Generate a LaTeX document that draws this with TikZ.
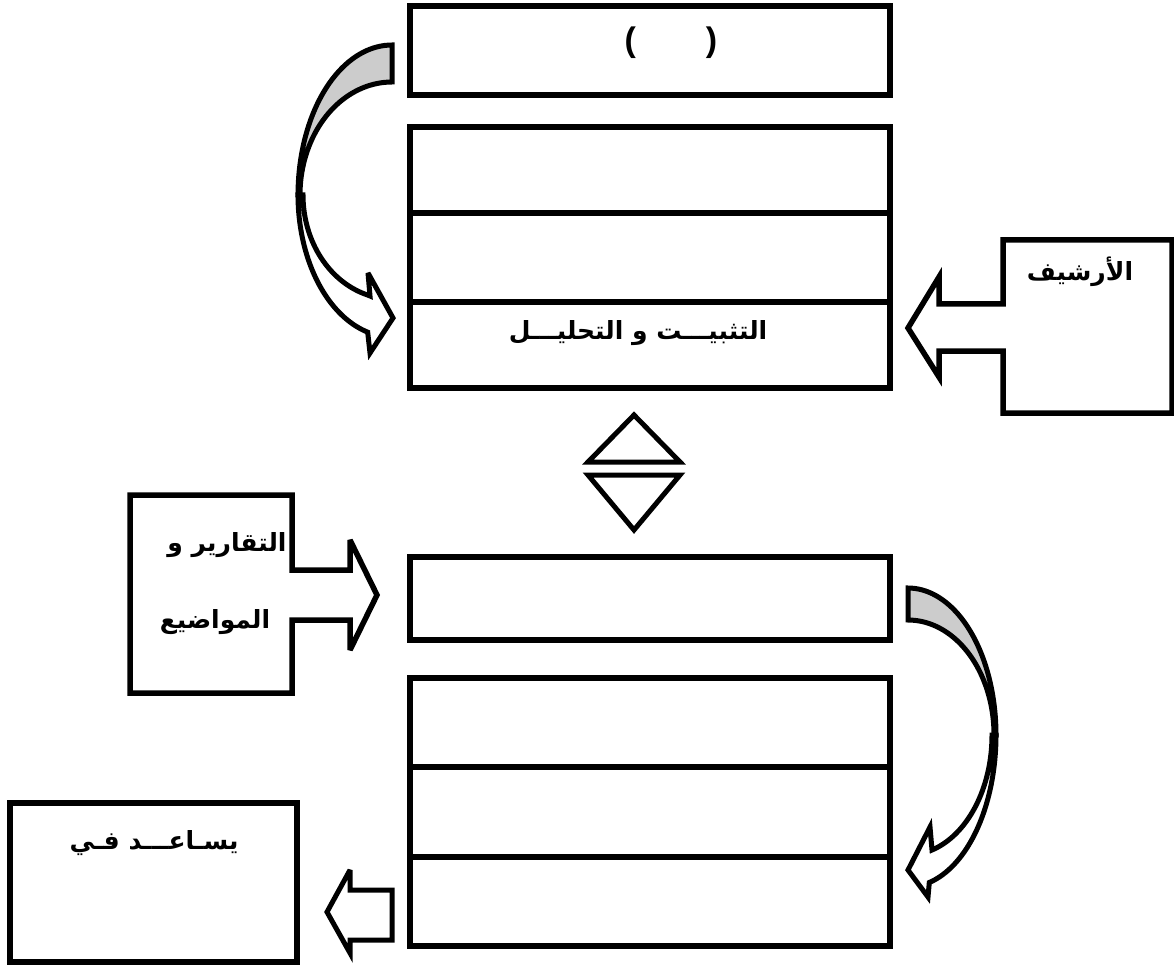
\documentclass[tikz,border=0pt]{standalone}
\usepackage{fontspec}
\setmainfont{Liberation Sans}
\newfontfamily\arabicfont[Script=Arabic]{DejaVu Sans}
\TeXXeTstate=1
\tikzset{
  cell/.style={draw, line width=5.5pt, minimum width=480pt, inner sep=0pt},
  artext/.style={font=\arabicfont\bfseries\fontsize{25}{29}\selectfont, inner sep=0pt},
  outl/.style={draw, line width=5pt, line join=miter, miter limit=4},
  callout/.style={outl, line width=5.5pt},
  shade/.style={outl, fill=black!20},
}
\begin{document}
\begin{tikzpicture}[x=1pt,y=-1pt]
\useasboundingbox (0,0) rectangle (1174,965);
% top box
\node[cell, minimum height=89pt] (top) at (650,50.5) {};
\node[font=\bfseries\fontsize{34}{38}\selectfont, inner sep=0pt] (par) at (671,43) {(\hspace{70pt})};
% second group
\node[cell, minimum height=86pt] (g2a) at (650,170) {};
\node[cell, minimum height=89pt] (g2b) at (650,257.5) {};
\node[cell, minimum height=86pt] (g2c) at (650,345) {};
\node[artext] (t1) at (638,333) {\beginR التثبيـــت و التحليـــل\endR};
% double triangles
\draw[outl] (588,462) -- (634,415) -- (680,462) -- cycle;
\draw[outl] (588,475) -- (680,475) -- (634,530) -- cycle;
% third box
\node[cell, minimum height=83pt] (b3) at (650,598.5) {};
% fourth group
\node[cell, minimum height=89pt] (g4a) at (650,722.5) {};
\node[cell, minimum height=90pt] (g4b) at (650,812) {};
\node[cell, minimum height=89pt] (g4c) at (650,901.5) {};
% right callout (archive)
\draw[callout] (1172,240) -- (1003,240) -- (1003,304) -- (939,304) -- (939,277) -- (908,328)
  -- (939,377) -- (939,351) -- (1003,351) -- (1003,413) -- (1172,413) -- cycle;
\node[artext] (t2) at (1080,272) {\beginR الأرشيف\endR};
% left callout (reports)
\draw[callout] (130,495) -- (292,495) -- (292,570) -- (350,570) -- (350,540) -- (377,595)
  -- (350,650) -- (350,620) -- (292,620) -- (292,693) -- (130,693) -- cycle;
\node[artext] (t3) at (227,545) {\beginR التقارير و\endR};
\node[artext] (t4) at (215,622) {\beginR المواضيع\endR};
% bottom-left box
\node[cell, minimum width=287pt, minimum height=159pt] (help) at (153.5,882.5) {};
\node[artext] (t5) at (154,843) {\beginR يسـاعـــد فـي\endR};
% small left arrow
\draw[outl] (392,890) -- (350,890) -- (350,870) -- (327,912) -- (350,953) -- (350,940) -- (392,940) -- cycle;
% top-left curved arrow
\draw[outl, fill=white] plot[domain=180:105, samples=40] ({392+94*cos(\x)},{195+142*sin(\x)})
  -- (370,353) -- (393,318) -- (368,273) -- (370,296)
  -- plot[domain=106:180, samples=40] ({392+89*cos(\x)},{195+104*sin(\x)}) -- cycle;
\draw[shade] plot[domain=-90:-180, samples=40] ({392+94*cos(\x)},{195+150*sin(\x)})
  -- plot[domain=180:270, samples=40] ({392+92*cos(\x)},{195+113*sin(\x)}) -- cycle;
% bottom-right curved arrow
\draw[outl, fill=white] plot[domain=0:76, samples=40] ({908+88*cos(\x)},{735+152*sin(\x)})
  -- (928,897) -- (908,870) -- (930,827) -- (932,850)
  -- plot[domain=73:0, samples=40] ({908+84*cos(\x)},{735+120*sin(\x)}) -- cycle;
\draw[shade] plot[domain=-90:0, samples=40] ({908+88*cos(\x)},{735+147*sin(\x)})
  -- plot[domain=0:-90, samples=40] ({908+86*cos(\x)},{735+115*sin(\x)}) -- cycle;
\end{tikzpicture}
\end{document}
